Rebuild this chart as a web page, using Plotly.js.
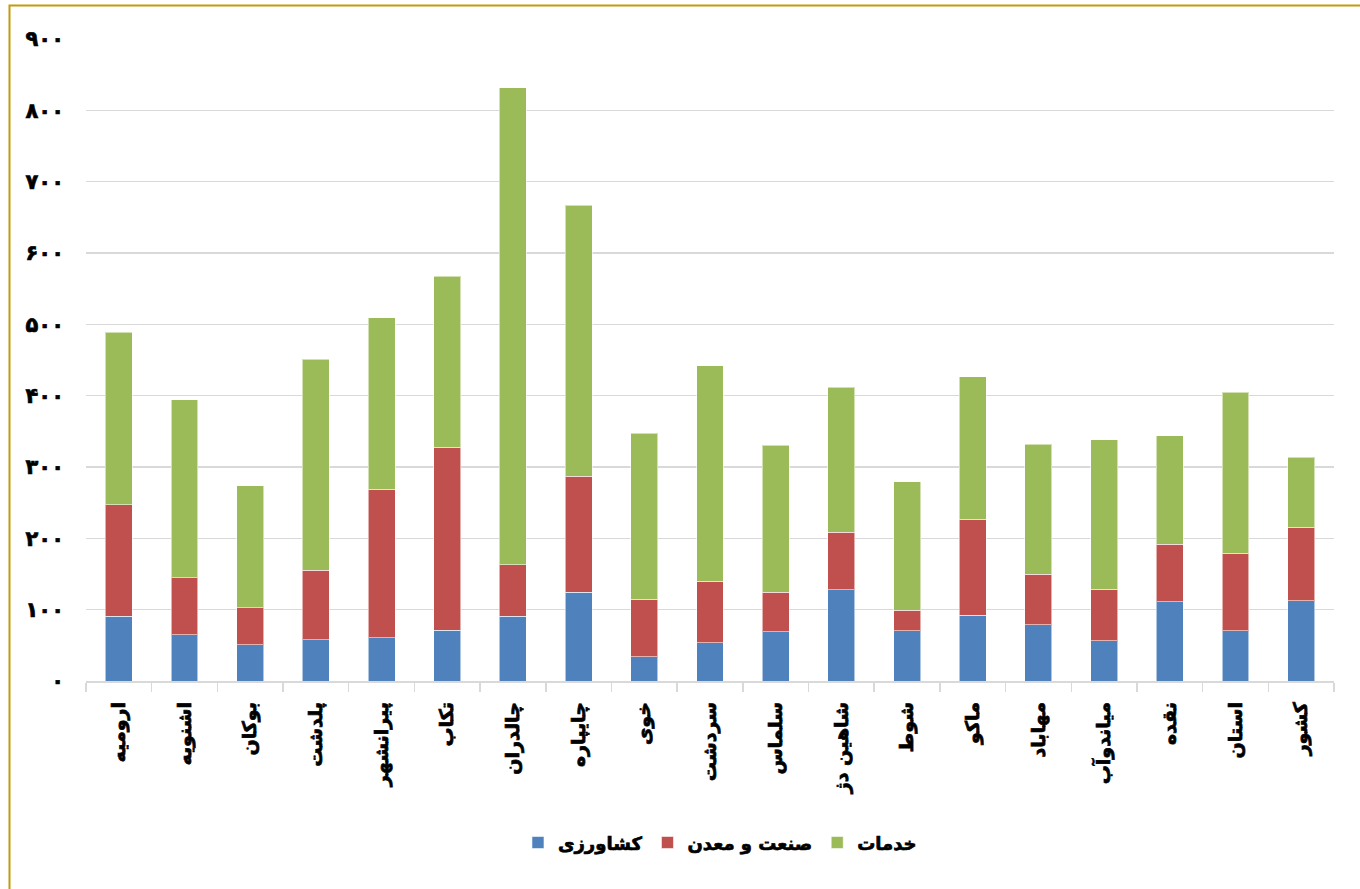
<!DOCTYPE html>
<html>
<head>
<meta charset="utf-8">
<script src="https://cdn.plot.ly/plotly-3.0.1.min.js"></script>
<style>
html,body{margin:0;padding:0;background:#fff;overflow:hidden;}
#chart{width:1360px;height:889px;}
#chart .xtick text, #chart .ytick text, #chart .legendtext{stroke:#000;stroke-width:0.7px;paint-order:stroke;}
</style>
</head>
<body>
<div id="chart"></div>
<script>
var categories = ["ارومیه","اشنویه","بوکان","پلدشت","پیرانشهر","تکاب","چالدران","چایپاره","خوی","سردشت","سلماس","شاهین دژ","شوط","ماکو","مهاباد","میاندوآب","نقده","استان","کشور"];
var agriculture = [90.7, 64.7, 50.7, 57.7, 60.5, 71.1, 90.7, 124.3, 33.8, 53.5, 68.9, 127.6, 70.3, 92.1, 78.6, 56.3, 111.3, 70.3, 112.3];
var industry    = [156.4, 79.8, 51.8, 97.4, 208.5, 256.7, 72.3, 162.4, 80.7, 86.2, 55.4, 80.7, 28.8, 134.9, 71.4, 72.2, 80.2, 108.6, 103.0];
var services    = [242.0, 249.5, 171.5, 296.0, 240.0, 239.7, 669.0, 380.3, 232.5, 301.9, 206.3, 203.7, 180.2, 199.3, 182.0, 210.0, 152.5, 226.1, 98.5];
var seriesNames = ["کشاورزی","صنعت و معدن","خدمات"];
var yTickValues = [0,100,200,300,400,500,600,700,800,900];
var yTickLabels = ["۰","۱۰۰","۲۰۰","۳۰۰","۴۰۰","۵۰۰","۶۰۰","۷۰۰","۸۰۰","۹۰۰"];

var font = "DejaVu Sans, sans-serif";
var edge = {color: "rgba(255,255,255,0.55)", width: 1};
var traces = [
  {type:"bar", name:seriesNames[0], x:categories, y:agriculture, marker:{color:"#4F81BD", line:edge}},
  {type:"bar", name:seriesNames[1], x:categories, y:industry, marker:{color:"#C0504D", line:edge}},
  {type:"bar", name:seriesNames[2], x:categories, y:services, marker:{color:"#9BBB59", line:edge}}
];

var layout = {
  width:1360, height:889,
  margin:{l:86, r:26, t:38.5, b:207.5, pad:0},
  paper_bgcolor:"#fff", plot_bgcolor:"#fff",
  barmode:"stack",
  bargap:0.59,
  showlegend:true,
  legend:{orientation:"h", x:0.508, xanchor:"center", y:-0.252, yanchor:"middle",
          font:{family:font, size:18, color:"#000", weight:"bold"}, itemwidth:20, traceorder:"normal"},
  xaxis:{type:"category", tickangle:-90, tickson:"boundaries", ticks:"outside", ticklen:9,
         tickcolor:"#D9D9D9", tickwidth:1.5, showline:true, linecolor:"#D9D9D9", linewidth:1.5,
         ticklabelstandoff:12,
         showgrid:false, tickfont:{family:font, size:19, color:"#000", weight:"bold"}, automargin:false},
  yaxis:{range:[0,900], tickvals:yTickValues, ticktext:yTickLabels, showgrid:true,
         gridcolor:"#D9D9D9", gridwidth:1.5, zeroline:false, showline:false, ticks:"",
         ticklabelstandoff:21, tickfont:{family:font, size:21, color:"#000", weight:"bold"}, automargin:false},
  shapes:[{type:"rect", xref:"paper", yref:"paper", x0:-0.0613, x1:1.2, y0:-0.6, y1:1.0521,
           line:{color:"#C49A0E", width:2}, fillcolor:"rgba(0,0,0,0)", layer:"below"}]
};

Plotly.newPlot("chart", traces, layout, {displayModeBar:false, staticPlot:true});
</script>
</body>
</html>
